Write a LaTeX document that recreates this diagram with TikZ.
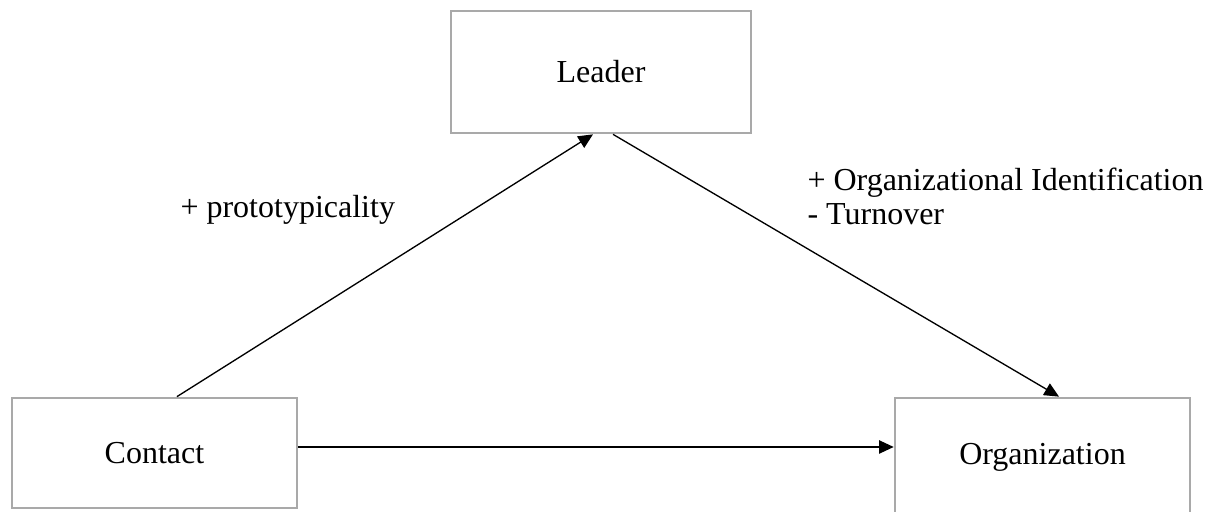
\documentclass[tikz,border=0pt]{standalone}
\usepackage{fontspec}
\setmainfont{Liberation Serif}
\usetikzlibrary{arrows.meta}
\definecolor{boxgray}{HTML}{A9A9A9}
\tikzset{
  box/.style={draw=boxgray, line width=1pt, inner sep=0pt},
  conn/.style={-{Triangle[length=5.5pt,width=5pt]}, line width=0.5pt},
}
\begin{document}
\begin{tikzpicture}[x=0.375pt, y=-0.375pt, font=\fontsize{12}{13.1}\selectfont]
            \useasboundingbox (0,0) rectangle (1222,512);
            \node[box, minimum width=112.5pt, minimum height=45.75pt] (leader) at (601,72) {Leader};
            \node[box, minimum width=106.9pt, minimum height=41.25pt] (contact) at (154.5,453) {Contact};
            \node[box, minimum width=110.6pt, minimum height=44.25pt] (org) at (1042.5,457) {Organization};
            \draw[conn] ([xshift=8.4pt]contact.north) -- ([xshift=-3pt]leader.south);
            \draw[conn] ([xshift=4.5pt]leader.south) -- ([xshift=6.2pt]org.north);
            \coordinate (h) at ([yshift=2.25pt]contact.east);
            \draw[conn] (h) -- (h -| org.west);
            \node[anchor=base west, inner sep=0pt] (proto) at (180,218) {+ prototypicality};
            \node[anchor=base west, inner sep=0pt, align=left] (effects) at (807,225) {+ Organizational Identification\\- Turnover};
        \end{tikzpicture}
\end{document}
